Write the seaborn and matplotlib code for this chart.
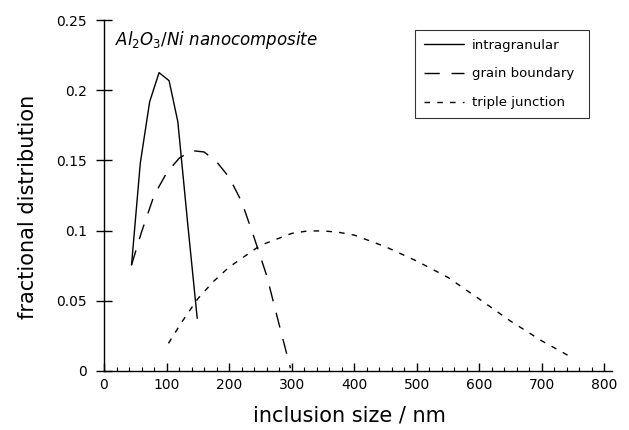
import matplotlib
matplotlib.use("Agg")
import matplotlib.pyplot as plt
import seaborn as sns
import pandas as pd
from matplotlib.ticker import MultipleLocator, FixedLocator, FuncFormatter

# ---- data ----
intra_x = [44, 58, 73, 88, 104, 118, 134, 149]
intra_y = [0.0755, 0.148, 0.1918, 0.2125, 0.2068, 0.1776, 0.104, 0.0375]

gb_x = [44, 60, 80, 100, 120, 140, 160, 180, 200, 220, 240, 260, 280, 298]
gb_y = [0.0755, 0.099, 0.125, 0.141, 0.1515, 0.157, 0.156, 0.149, 0.138,
        0.1206, 0.095, 0.068, 0.033, 0.002]

tj_x = [103, 125, 150, 175, 200, 250, 300, 325, 350, 375, 400, 450, 500,
        550, 600, 650, 700, 745]
tj_y = [0.0197, 0.0353, 0.0515, 0.0638, 0.074, 0.0895, 0.098, 0.0997, 0.0998,
        0.0988, 0.0968, 0.0885, 0.0783, 0.0666, 0.0512, 0.0355, 0.0214, 0.0103]

series_names = ["intragranular", "grain boundary", "triple junction"]
x_ticks = [0, 100, 200, 300, 400, 500, 600, 700, 800]
y_ticks = [0, 0.05, 0.1, 0.15, 0.2, 0.25]

df = pd.concat([
    pd.DataFrame({"size": intra_x, "frac": intra_y, "type": series_names[0]}),
    pd.DataFrame({"size": gb_x, "frac": gb_y, "type": series_names[1]}),
    pd.DataFrame({"size": tj_x, "frac": tj_y, "type": series_names[2]}),
], ignore_index=True)

sns.set_theme(style="white")
plt.rcParams["font.family"] = ["DejaVu Sans"]
plt.rcParams["text.color"] = "black"
plt.rcParams["axes.labelcolor"] = "black"
plt.rcParams["mathtext.fontset"] = "custom"
plt.rcParams["mathtext.it"] = "DejaVu Sans:italic"
plt.rcParams["mathtext.rm"] = "DejaVu Sans"

fig = plt.figure(figsize=(6.29, 4.30), dpi=100)
ax = fig.add_axes([104 / 629, 59 / 430, (612 - 104) / 629, 351 / 430])

dashes = {series_names[0]: "", series_names[1]: (11, 8.5), series_names[2]: (4, 5.2)}
sns.lineplot(data=df, x="size", y="frac", style="type", style_order=series_names,
             dashes=dashes, color="black", linewidth=1.0, sort=False,
             estimator=None, ax=ax)

ax.set_xlim(0, 812)
ax.set_ylim(0, 0.25)
ax.xaxis.set_major_locator(FixedLocator(x_ticks))
ax.xaxis.set_minor_locator(MultipleLocator(20))
ax.yaxis.set_major_locator(FixedLocator(y_ticks))
ax.yaxis.set_major_formatter(FuncFormatter(lambda v, p: "%g" % v))

for side in ["top", "right"]:
    ax.spines[side].set_visible(False)
for side in ["left", "bottom"]:
    ax.spines[side].set_color("black")
    ax.spines[side].set_linewidth(1.0)

ax.tick_params(axis="x", which="major", direction="in", length=5.5, width=1.0,
               colors="black", labelsize=10, pad=5, bottom=True)
ax.tick_params(axis="x", which="minor", direction="in", length=3, width=0.8,
               colors="black", bottom=True)
ax.tick_params(axis="y", which="major", direction="inout", length=11, width=1.0,
               colors="black", labelsize=10, pad=7, left=True)

ax.set_xlabel("inclusion size / nm", fontsize=15, color="black")
ax.set_ylabel("fractional distribution", fontsize=15, color="black")
ax.xaxis.set_label_coords(0.484, -0.098)
ax.yaxis.set_label_coords(-0.13, 0.467)

ax.text(0.022, 0.929, r"$Al_{2}O_{3}/Ni\ nanocomposite$", transform=ax.transAxes,
        fontsize=12, color="black", ha="left", va="baseline")

# legend box: x 415..589 px, y 30..116 px  -> axes coords
lx0 = (415 - 104) / 508
lx1 = (589 - 104) / 508
ly1 = (371 - 30) / 351
ly0 = (371 - 116) / 351
leg = ax.legend(loc="upper left", bbox_to_anchor=(lx0, ly0, lx1 - lx0, ly1 - ly0),
                mode="expand", fontsize=9.5, frameon=True, fancybox=False,
                shadow=False, handlelength=3.1, borderpad=0.65, labelspacing=1.2,
                handletextpad=0.58, borderaxespad=0)
leg.get_frame().set_edgecolor("black")
leg.get_frame().set_linewidth(0.8)
for h in leg.get_lines():
    h.set_linewidth(1.0)
for t in leg.get_texts():
    t.set_color("black")

fig.savefig("out.png", dpi=100)
